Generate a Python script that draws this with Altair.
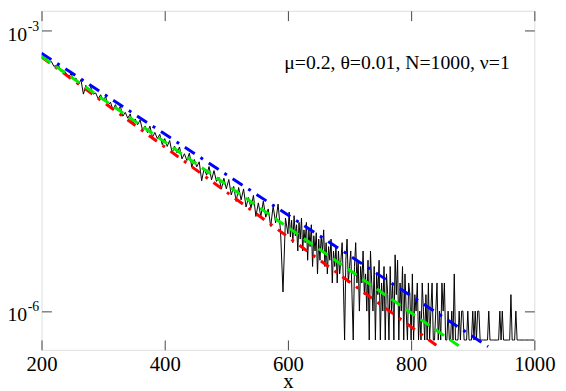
import altair as alt
import pandas as pd

# ---------------- data ----------------
black_x = list(range(200, 601, 4)) + list(range(602, 1001, 2))
black_y = [
    5.45e-4, 4.99e-4, 5.08e-4, 4.63e-4, 4.71e-4, 4.17e-4, 4.24e-4, 4.23e-4, 3.64e-4, 3.78e-4,
    3.52e-4, 3.17e-4, 3.49e-4, 3.01e-4, 3.12e-4, 2.65e-4, 3.00e-4, 2.10e-4, 2.61e-4, 2.31e-4,
    2.49e-4, 2.10e-4, 2.16e-4, 1.87e-4, 2.07e-4, 1.81e-4, 1.97e-4, 1.60e-4, 1.72e-4, 1.42e-4,
    1.62e-4, 1.39e-4, 1.56e-4, 1.22e-4, 1.34e-4, 1.16e-4, 1.29e-4, 9.94e-5, 1.14e-4, 9.88e-5,
    1.11e-4, 8.66e-5, 9.59e-5, 8.14e-5, 9.56e-5, 7.24e-5, 8.17e-5, 7.02e-5, 7.80e-5, 6.05e-5,
    7.02e-5, 5.79e-5, 6.69e-5, 4.93e-5, 5.82e-5, 4.94e-5, 5.71e-5, 4.26e-5, 4.83e-5, 4.09e-5,
    4.90e-5, 3.48e-5, 4.19e-5, 3.50e-5, 3.96e-5, 2.48e-5, 3.38e-5, 2.85e-5, 3.53e-5, 2.54e-5,
    3.19e-5, 2.44e-5, 2.70e-5, 2.02e-5, 2.64e-5, 2.04e-5, 2.56e-5, 1.75e-5, 2.16e-5, 1.49e-5,
    2.10e-5, 1.55e-5, 2.03e-5, 1.30e-5, 1.64e-5, 1.27e-5, 1.73e-5, 1.03e-5, 1.44e-5, 1.03e-5,
    1.50e-5, 1.01e-5, 1.24e-5, 8.06e-6, 1.33e-5, 8.79e-6, 1.40e-5, 7.18e-6, 1.60e-6, 9.90e-6,
    6.72e-6,
    # 602 .. 1000 step 2
    1.15e-5, 6.2e-6, 9.4e-6, 5.4e-6, 1.05e-5, 6.4e-6, 8.4e-6, 4.4e-6, 8.9e-6, 5.9e-6,
    9.9e-6, 4.4e-6, 7.4e-6, 5.4e-6, 8.9e-6, 3.5e-6, 7.4e-6, 4.9e-6, 8.4e-6, 3.0e-6,
    6.4e-6, 4.4e-6, 6.9e-6, 2.5e-6, 5.9e-6, 3.5e-6, 6.4e-6, 4.4e-6, 7.4e-6, 3.0e-6,
    5.4e-6, 2.5e-6, 4.9e-6, 3.5e-6, 5.9e-6, 2.0e-6, 4.4e-6, 3.0e-6, 4.9e-6, 2.0e-6,
    4.4e-6, 2.5e-6, 3.5e-6, 5.4e-6, 2.0e-6, 4.9e-7, 3.5e-6, 5.9e-6, 2.0e-6, 3.0e-6,
    4.4e-6, 1.5e-6, 4.9e-7, 3.0e-6, 5.4e-6, 2.0e-6, 3.5e-6, 1.0e-6, 3.0e-6, 2.0e-6,
    4.4e-6, 1.5e-6, 2.5e-6, 1.0e-6, 3.5e-6, 4.9e-7, 4.4e-6, 2.0e-6, 1.0e-6, 3.0e-6,
    4.9e-7, 2.5e-6, 1.5e-6, 3.5e-6, 4.9e-7, 2.0e-6, 1.0e-6, 3.0e-6, 4.9e-7, 2.5e-6,
    1.5e-6, 4.9e-7, 3.0e-6, 1.0e-6, 2.0e-6, 4.9e-7, 4.0e-6, 1.5e-6, 3.5e-6, 4.9e-7,
    2.0e-6, 1.0e-6, 3.0e-6, 4.9e-7, 2.5e-6, 1.0e-6, 4.9e-7, 2.0e-6, 1.5e-6, 4.9e-7,
    2.5e-6, 4.9e-7, 1.5e-6, 1.0e-6, 2.0e-6, 4.9e-7, 1.0e-6, 4.9e-7, 2.0e-6, 1.0e-6,
    4.9e-7, 1.5e-6, 4.9e-7, 2.0e-6, 4.9e-7, 1.0e-6, 2.0e-6, 4.9e-7, 4.9e-7, 1.0e-6,
    2.0e-6, 4.9e-7, 1.0e-6, 4.9e-7, 2.0e-6, 1.0e-6, 2.0e-6, 4.9e-7, 4.9e-7, 1.0e-6,
    4.9e-7, 4.9e-7, 1.0e-6, 4.9e-7, 2.5e-6, 4.9e-7, 4.9e-7, 4.9e-7, 1.0e-6, 4.9e-7,
    1.0e-6, 1.0e-6, 4.9e-7, 4.9e-7, 4.9e-7, 1.0e-6, 4.9e-7, 4.9e-7, 4.9e-7, 1.0e-6,
    4.9e-7, 1.0e-6, 4.9e-7, 1.0e-6, 1.0e-6, 4.9e-7, 4.9e-7, 4.9e-7, 4.9e-7, 4.9e-7,
    4.9e-7, 4.9e-7, 1.0e-6, 4.9e-7, 4.9e-7, 4.9e-7, 4.9e-7, 4.9e-7, 4.9e-7, 4.9e-7,
    4.9e-7, 1.0e-6, 4.9e-7, 1.0e-6, 4.9e-7, 4.9e-7, 4.9e-7, 4.9e-7, 4.9e-7, 4.9e-7,
    1.5e-6, 4.9e-7, 4.9e-7, 4.9e-7, 1.0e-6, 4.9e-7, 4.9e-7, 4.9e-7, 4.9e-7, 4.9e-7,
    4.9e-7, 4.9e-7, 4.9e-7, 4.9e-7, 4.9e-7, 4.9e-7, 4.9e-7, 4.9e-7, 4.9e-7, 4.9e-7,
]

red_x = [200, 850]
red_y = [5.25e-4, 3.89e-7]
green_x = [200, 879]
green_y = [5.31e-4, 4.17e-7]
blue_x = [200, 925]
blue_y = [5.77e-4, 4.17e-7]

note_text = "μ=0.2, θ=0.01, N=1000, ν=1"
note_x = [594]
note_y = [4.52e-4]

x_ticks = [200, 400, 600, 800, 1000]
y_ticks = [1e-3, 1e-6]
y_exponents = ["-3", "-6"]
x_domain = [200, 1000]
y_domain = [3.85e-7, 1.64e-3]

n = min(len(black_x), len(black_y))
black_df = pd.DataFrame({"x": black_x[:n], "y": black_y[:n]})
red_df = pd.DataFrame({"x": red_x, "y": red_y})
green_df = pd.DataFrame({"x": green_x, "y": green_y})
blue_df = pd.DataFrame({"x": blue_x, "y": blue_y})
note_df = pd.DataFrame({"x": note_x, "y": note_y, "t": [note_text]})
exp_df = pd.DataFrame({"y": y_ticks, "t": y_exponents})

FONT = "Liberation Serif"
TICK = "#444444"

xs = alt.Scale(domain=x_domain, nice=False, zero=False)
ys = alt.Scale(type="log", domain=y_domain, nice=False)

x_bottom = alt.Axis(orient="bottom", values=x_ticks, format="d", offset=-10, tickSize=10,
                    tickColor=TICK, domain=False, grid=False, labelFont=FONT, labelFontSize=21,
                    labelColor="black", labelPadding=4, labelFlush=False, title="x",
                    titleFont=FONT, titleFontSize=21, titleFontWeight="normal",
                    titleColor="black", titleBaseline="alphabetic", titleY=48)
y_left = alt.Axis(orient="left", values=y_ticks, offset=-10, tickSize=10, tickColor=TICK,
                  domain=False, grid=False, labelFont=FONT, labelFontSize=20, labelColor="black",
                  labelPadding=15, labelFlush=False, labelOffset=4,
                  labelExpr="'10'", title=None)
x_top = alt.Axis(orient="top", values=x_ticks, offset=-10, tickSize=10, tickColor=TICK,
                 domain=False, grid=False, labels=False, title=None)
y_right = alt.Axis(orient="right", values=y_ticks, offset=-10, tickSize=10, tickColor=TICK,
                   domain=False, grid=False, labels=False, title=None)

black = alt.Chart(black_df).mark_line(color="black", strokeWidth=1, clip=True).encode(
    x=alt.X("x:Q", scale=xs, axis=x_bottom),
    y=alt.Y("y:Q", scale=ys, axis=y_left),
)

def theory(df, color, dash):
    return alt.Chart(df).mark_line(color=color, strokeWidth=3, strokeDash=dash,
                                   strokeCap="butt", clip=True).encode(
        x=alt.X("x:Q", scale=xs, axis=None),
        y=alt.Y("y:Q", scale=ys, axis=None),
    )

red = theory(red_df, "#ff0000", [10, 7, 3, 7])
green = theory(green_df, "#00ee00", [11, 7])
blue = theory(blue_df, "#0000ff", [12, 7, 3, 7])

# superscript exponents of the y tick labels
exps = alt.Chart(exp_df).mark_text(font=FONT, fontSize=14, align="left", baseline="middle",
                                   color="black", dy=-4).encode(
    x=alt.value(-14),
    y=alt.Y("y:Q", scale=ys, axis=None),
    text="t:N",
)

note = alt.Chart(note_df).mark_text(font=FONT, fontSize=20, align="left", baseline="middle",
                                    color="black").encode(
    x=alt.X("x:Q", scale=xs, axis=x_top),
    y=alt.Y("y:Q", scale=ys, axis=y_right),
    text="t:N",
)

chart = alt.layer(black, red, green, blue, exps, note).resolve_axis(
    x="independent", y="independent"
).properties(
    width=500, height=344,
    autosize=alt.AutoSizeParams(type="none"),
    padding={"left": 34, "top": 0, "right": 24, "bottom": 39},
).configure_view(stroke="black", strokeWidth=1.2).configure_axis(
    labelFont=FONT, titleFont=FONT
).configure_text(font=FONT).configure(background="white", font=FONT)

chart.save("out.html", embed_options={"renderer": "svg", "actions": False})
